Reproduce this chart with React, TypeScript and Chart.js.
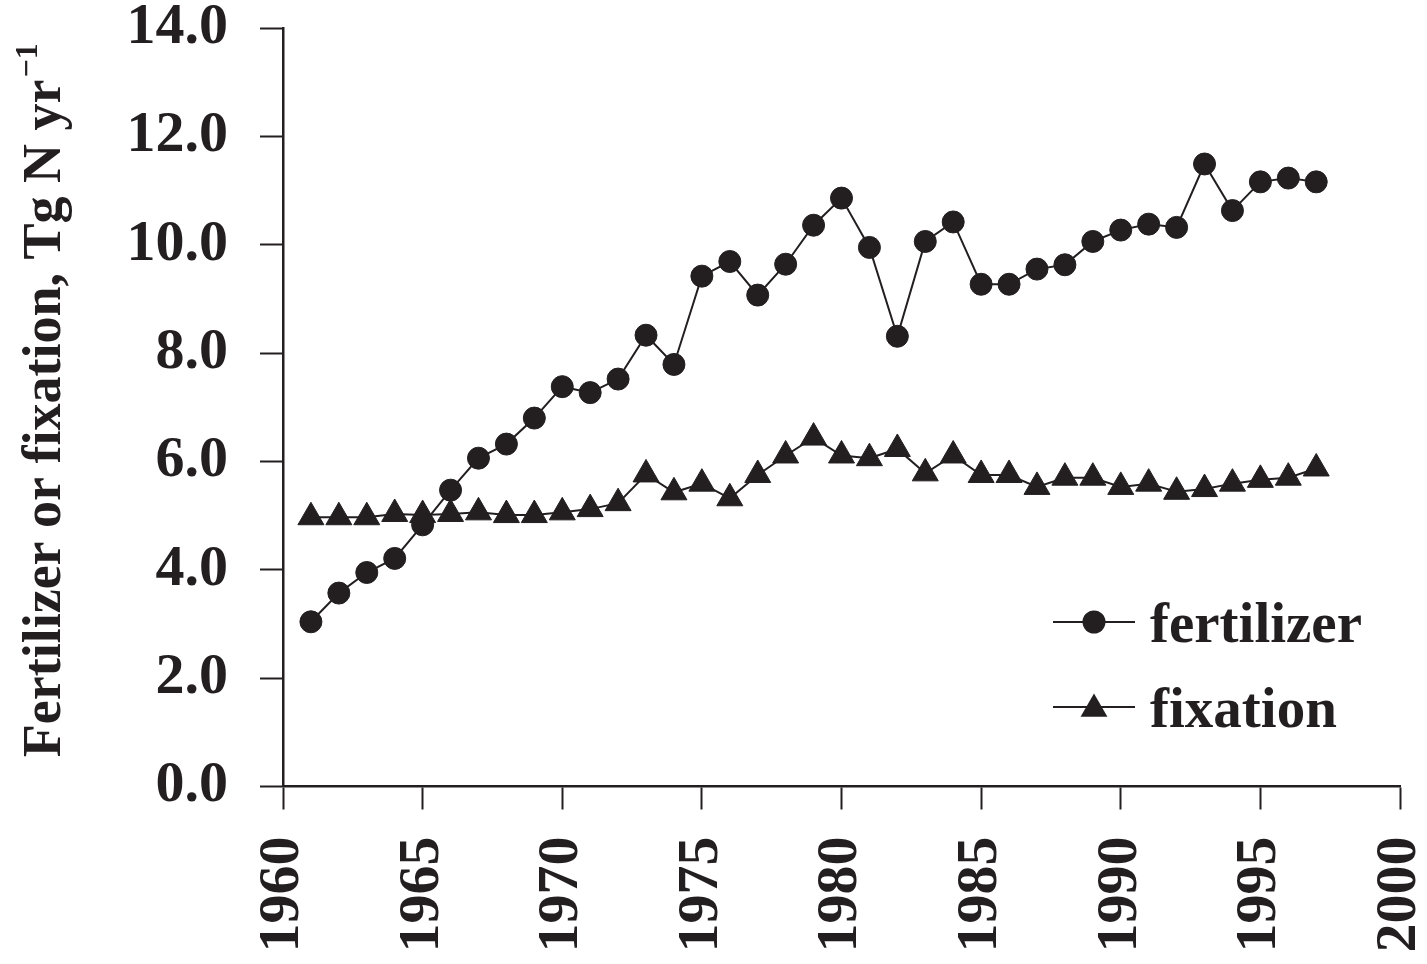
import React, { useEffect, useRef } from 'react';
import { Chart, registerables } from 'chart.js';

Chart.register(...registerables);

const years = [
  1961, 1962, 1963, 1964, 1965, 1966, 1967, 1968, 1969, 1970,
  1971, 1972, 1973, 1974, 1975, 1976, 1977, 1978, 1979, 1980,
  1981, 1982, 1983, 1984, 1985, 1986, 1987, 1988, 1989, 1990,
  1991, 1992, 1993, 1994, 1995, 1996, 1997,
];

const fertilizer = [
  3.04, 3.57, 3.95, 4.21, 4.83, 5.47, 6.06, 6.32, 6.8, 7.38,
  7.27, 7.52, 8.33, 7.79, 9.42, 9.69, 9.07, 9.64, 10.36, 10.86,
  9.95, 8.31, 10.06, 10.42, 9.27, 9.27, 9.55, 9.63, 10.06, 10.27,
  10.38, 10.32, 11.49, 10.63, 11.16, 11.23, 11.16,
];

const fixation = [
  4.97, 4.97, 4.97, 5.03, 5.01, 5.03, 5.06, 5.01, 5.01, 5.06,
  5.12, 5.23, 5.76, 5.43, 5.59, 5.32, 5.75, 6.11, 6.44, 6.11,
  6.06, 6.23, 5.78, 6.11, 5.75, 5.75, 5.53, 5.7, 5.7, 5.53,
  5.59, 5.44, 5.49, 5.59, 5.66, 5.7, 5.87,
];

const seriesNames = ['fertilizer', 'fixation'];
const seriesMarkers = ['circle', 'triangle'];

const xMin = 1960;
const xMax = 2000;
const xStep = 5;
const yMin = 0;
const yMax = 14;
const yStep = 2;

const yTitleMain = 'Fertilizer or fixation, Tg N yr';
const yTitleSup = '\u22121';

const INK = '#231f20';
const FONT = '"Liberation Serif", "Times New Roman", serif';

function drawMarker(ctx: CanvasRenderingContext2D, style: string, x: number, y: number, r: number) {
  ctx.beginPath();
  if (style === 'triangle') {
    let rad = 0;
    ctx.moveTo(x + Math.sin(rad) * r, y - Math.cos(rad) * r);
    rad += (2 * Math.PI) / 3;
    ctx.lineTo(x + Math.sin(rad) * r, y - Math.cos(rad) * r);
    rad += (2 * Math.PI) / 3;
    ctx.lineTo(x + Math.sin(rad) * r, y - Math.cos(rad) * r);
    ctx.closePath();
  } else {
    ctx.arc(x, y, r, 0, Math.PI * 2);
  }
  ctx.fill();
}

const yTitlePlugin = {
  id: 'yTitleSup',
  afterDraw(chart: any) {
    const ctx: CanvasRenderingContext2D = chart.ctx;
    const { top, bottom } = chart.chartArea;
    ctx.save();
    ctx.fillStyle = INK;
    const mainFont = `bold 54px ${FONT}`;
    const supFont = `bold 32px ${FONT}`;
    ctx.font = mainFont;
    const w1 = ctx.measureText(yTitleMain).width;
    ctx.font = supFont;
    const w2 = ctx.measureText(yTitleSup).width;
    const total = w1 + 2 + w2;
    const cy = (top + bottom) / 2 - 7;
    ctx.translate(60, cy + total / 2);
    ctx.rotate(-Math.PI / 2);
    ctx.textAlign = 'left';
    ctx.textBaseline = 'alphabetic';
    ctx.font = mainFont;
    ctx.fillText(yTitleMain, 0, 0);
    ctx.font = supFont;
    ctx.fillText(yTitleSup, w1 + 2, -23);
    ctx.restore();
  },
};

const lineLegendPlugin = {
  id: 'lineLegend',
  afterDraw(chart: any) {
    const ctx: CanvasRenderingContext2D = chart.ctx;
    const { right, bottom } = chart.chartArea;
    const x0 = right - 347;
    const x1 = right - 265;
    const xm = (x0 + x1) / 2;
    const rowYs = [bottom - 164.5, bottom - 79.5];
    ctx.save();
    chart.data.datasets.forEach((ds: any, i: number) => {
      const y = rowYs[i];
      ctx.strokeStyle = INK;
      ctx.lineWidth = 2;
      ctx.beginPath();
      ctx.moveTo(x0, y);
      ctx.lineTo(x1, y);
      ctx.stroke();
      ctx.fillStyle = INK;
      drawMarker(ctx, ds.pointStyle, xm, ds.pointStyle === 'triangle' ? y + 2 : y, ds.pointStyle === 'triangle' ? 15.5 : 11.5);
      ctx.font = `bold 57px ${FONT}`;
      ctx.textAlign = 'left';
      ctx.textBaseline = 'alphabetic';
      ctx.fillText(ds.label, right - 250, y + 20);
    });
    ctx.restore();
  },
};

export default function App() {
  const canvasRef = useRef<HTMLCanvasElement | null>(null);

  useEffect(() => {
    if (!canvasRef.current) return;
    const makeData = (vals: number[]) => years.map((yr, i) => ({ x: yr, y: vals[i] }));
    const chart = new Chart(canvasRef.current, {
      type: 'line',
      data: {
        datasets: [
          {
            label: seriesNames[0],
            data: makeData(fertilizer),
            borderColor: INK,
            backgroundColor: INK,
            borderWidth: 2,
            pointStyle: seriesMarkers[0],
            pointRadius: 11,
            pointBorderWidth: 1,
            pointBackgroundColor: INK,
            pointBorderColor: INK,
            tension: 0,
            fill: false,
          },
          {
            label: seriesNames[1],
            data: makeData(fixation),
            borderColor: INK,
            backgroundColor: INK,
            borderWidth: 2,
            pointStyle: seriesMarkers[1],
            pointRadius: 15,
            pointBorderWidth: 1,
            pointBackgroundColor: INK,
            pointBorderColor: INK,
            tension: 0,
            fill: false,
          },
        ],
      },
      options: {
        animation: false,
        responsive: true,
        maintainAspectRatio: false,
        devicePixelRatio: 1,
        layout: { padding: { left: 0, top: 28, right: 27, bottom: 0 } },
        plugins: {
          legend: { display: false },
          tooltip: { enabled: false },
          title: { display: false },
        },
        scales: {
          x: {
            type: 'linear',
            min: xMin,
            max: xMax,
            grid: {
              drawOnChartArea: false,
              drawTicks: true,
              tickLength: 23,
              tickWidth: 2,
              color: INK,
            },
            border: { display: true, color: INK, width: 2.5 },
            ticks: {
              stepSize: xStep,
              autoSkip: false,
              minRotation: 90,
              maxRotation: 90,
              padding: 27,
              color: INK,
              font: { family: FONT, size: 58, weight: 'bold' },
              callback: (v: any) => String(v),
            },
            afterFit: (scale: any) => {
              scale.height = 177.5;
              scale.paddingLeft = 0;
              scale.paddingRight = 0;
            },
          },
          y: {
            type: 'linear',
            min: yMin,
            max: yMax,
            grid: {
              drawOnChartArea: false,
              drawTicks: true,
              tickLength: 23,
              tickWidth: 2,
              color: INK,
            },
            border: { display: true, color: INK, width: 2.5 },
            ticks: {
              stepSize: yStep,
              padding: 32,
              color: INK,
              font: { family: FONT, size: 58, weight: 'bold' },
              callback: (v: any) => Number(v).toFixed(1),
            },
            afterFit: (scale: any) => {
              scale.width = 283;
              scale.paddingTop = 0;
              scale.paddingBottom = 0;
            },
          },
        },
      } as any,
      plugins: [yTitlePlugin, lineLegendPlugin],
    });
    return () => chart.destroy();
  }, []);

  return (
    <div style={{ position: 'fixed', left: 0, top: 0, width: 1427, height: 964, background: '#fff' }}>
      <canvas ref={canvasRef} />
    </div>
  );
}
